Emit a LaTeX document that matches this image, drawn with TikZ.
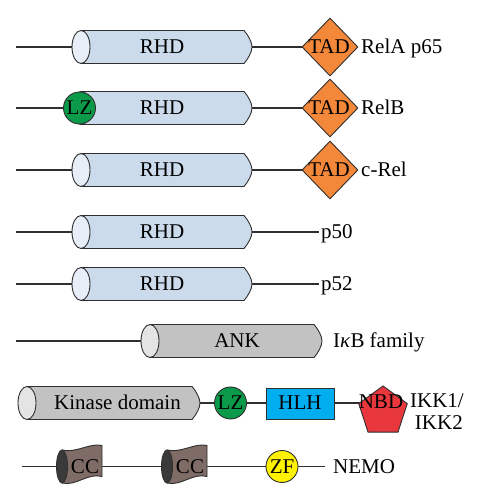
\documentclass[tikz,border=0pt]{standalone}
\usepackage{fontspec}
\setmainfont{Liberation Serif}
\usetikzlibrary{shapes.geometric}
\definecolor{rhdfill}{HTML}{CBDBEB}
\definecolor{rhdcap}{HTML}{E8EEF7}
\definecolor{grayfill}{HTML}{C2C2C2}
\definecolor{graycap}{HTML}{E4E4E4}
\definecolor{tadorange}{HTML}{F3873A}
\definecolor{lzgreen}{HTML}{0B9A4A}
\definecolor{hlhblue}{HTML}{00AEEF}
\definecolor{nbdred}{HTML}{E8383D}
\definecolor{zfyellow}{HTML}{FFF200}
\definecolor{ccbrown}{HTML}{7F6C66}
\definecolor{ccdark}{HTML}{3A3A3A}
\definecolor{ink}{HTML}{2F2F2F}
% cylinder: #1 cap centre x, #2 body right x, #3 row y, #4 body fill, #5 cap fill
\newcommand\mycyl[5]{%
  \draw[outl, fill=#4] (#1,#3+16.5) -- (#2,#3+16.5) .. controls (#2+4,#3+12) and (#2+8,#3+5) .. (#2+8,#3) .. controls (#2+8,#3-5) and (#2+4,#3-12) .. (#2,#3-16.5) -- (#1,#3-16.5) -- cycle;
  \draw[outl, fill=#5] (#1,#3) ellipse [x radius=9, y radius=16.5];
}
% coiled coil: #1 cap centre x, #2 row y
\newcommand\mycc[2]{%
  \draw[outl, fill=ccbrown] (#1,#2+16.5) .. controls (#1+14,#2+13) and (#1+28,#2+24) .. (#1+40,#2+21) -- (#1+40,#2-10) .. controls (#1+26,#2-6) and (#1+14,#2-20) .. (#1,#2-16.5) -- cycle;
  \draw[outl, fill=ccdark] (#1,#2) ellipse [x radius=5.5, y radius=16.5];
}
\begin{document}
\begin{tikzpicture}[x=1pt,y=1pt,
  outl/.style={draw=ink, line width=0.9pt},
  conn/.style={draw=ink, line width=1.2pt},
  txt/.style={font=\fontsize{21}{25}\selectfont, inner sep=0pt, anchor=base},
  lbl/.style={font=\fontsize{21}{25}\selectfont, inner sep=0pt, anchor=base west},
  tadbox/.style={shape=diamond, draw=ink, line width=0.9pt, fill=tadorange, minimum width=56pt, minimum height=58pt, inner sep=0pt},
  dotbox/.style={circle, draw=ink, line width=0.9pt, minimum size=32pt, inner sep=0pt},
  hlhbox/.style={rectangle, draw=ink, line width=0.9pt, fill=hlhblue, minimum width=68pt, minimum height=31pt, inner sep=0pt},
  nbdbox/.style={regular polygon, regular polygon sides=5, draw=ink, line width=0.9pt, fill=nbdred, minimum size=51pt, inner sep=0pt},
]
\useasboundingbox[fill=white] (0,0) rectangle (485,500);

% Row 1: RelA p65
\coordinate (a0) at (16,453);
\coordinate (a1) at (330,453);
\draw[conn] (a0) -- (a1);
\mycyl{81}{244}{453}{rhdfill}{rhdcap}
\node[tadbox] (tad1) at (330,453) {};
\node[txt] (rhd1) at (162,446.5) {RHD};
\node[txt] (tad1t) at (329,446.5) {TAD};
\node[lbl] (relA) at (361,446.5) {RelA p65};

% Row 2: RelB
\coordinate (b0) at (16,392);
\coordinate (b1) at (330,392);
\draw[conn] (b0) -- (b1);
\mycyl{81}{244}{392}{rhdfill}{rhdcap}
\node[dotbox, fill=lzgreen] (lz1) at (79.5,392) {};
\node[tadbox] (tad2) at (330,392) {};
\node[txt] (lz1t) at (79.5,385.5) {LZ};
\node[txt] (rhd2) at (162,385.5) {RHD};
\node[txt] (tad2t) at (329,385.5) {TAD};
\node[lbl] (relB) at (361,385.5) {RelB};

% Row 3: c-Rel
\coordinate (c0) at (16,330);
\coordinate (c1) at (330,330);
\draw[conn] (c0) -- (c1);
\mycyl{81}{244}{330}{rhdfill}{rhdcap}
\node[tadbox] (tad3) at (330,330) {};
\node[txt] (rhd3) at (162,323.5) {RHD};
\node[txt] (tad3t) at (329,323.5) {TAD};
\node[lbl] (cRel) at (361,323.5) {c-Rel};

% Row 4: p50
\coordinate (d0) at (16,268);
\coordinate (d1) at (319,268);
\draw[conn] (d0) -- (d1);
\mycyl{81}{244}{268}{rhdfill}{rhdcap}
\node[txt] (rhd4) at (162,261.5) {RHD};
\node[lbl] (p50) at (321,261.5) {p50};

% Row 5: p52
\coordinate (e0) at (16,216);
\coordinate (e1) at (319,216);
\draw[conn] (e0) -- (e1);
\mycyl{81}{244}{216}{rhdfill}{rhdcap}
\node[txt] (rhd5) at (162,209.5) {RHD};
\node[lbl] (p52) at (321,209.5) {p52};

% Row 6: IkB family
\coordinate (f0) at (16,159);
\coordinate (f1) at (150,159);
\draw[conn] (f0) -- (f1);
\mycyl{150}{314}{159}{grayfill}{graycap}
\node[txt] (ank) at (237,152.5) {ANK};
\node[lbl] (ikb) at (333,152.5) {I\textit{κ}B family};

% Row 7: IKK1/IKK2
\coordinate (g0) at (192,97);
\coordinate (g1) at (383,97);
\draw[conn] (g0) -- (g1);
\mycyl{27}{192}{97}{grayfill}{graycap}
\node[dotbox, fill=lzgreen] (lz2) at (230.5,97) {};
\node[hlhbox] (hlh) at (300,96.5) {};
\node[nbdbox] (nbd) at (383,88.5) {};
\node[txt] (kin) at (117.5,90.5) {Kinase domain};
\node[txt] (lz2t) at (230.5,90.5) {LZ};
\node[txt] (hlht) at (300,90.5) {HLH};
\node[txt] (nbdt) at (381,91) {NBD};
\node[font=\fontsize{21}{25}\selectfont, inner sep=0pt, anchor=base east] (ikk1) at (464,92) {IKK1/};
\node[font=\fontsize{21}{25}\selectfont, inner sep=0pt, anchor=base east] (ikk2) at (463,70) {IKK2};

% Row 8: NEMO
\coordinate (h0) at (22,33.5);
\coordinate (h1) at (325,33.5);
\draw[conn] (h0) -- (h1);
\mycc{62}{33.5}
\mycc{167}{33.5}
\node[dotbox, fill=zfyellow] (zf) at (282,33.5) {};
\node[txt] (cc1) at (85,27) {CC};
\node[txt] (cc2) at (190,27) {CC};
\node[txt] (zft) at (282,27) {ZF};
\node[lbl] (nemo) at (333,27) {NEMO};
\end{tikzpicture}
\end{document}
